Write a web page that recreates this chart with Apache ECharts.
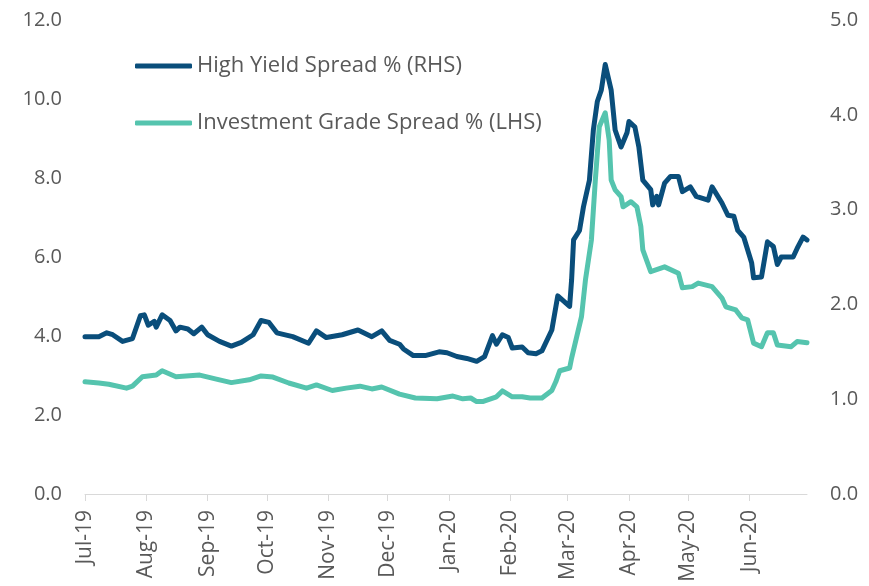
<!DOCTYPE html>
<html>
<head>
<meta charset="utf-8">
<script src="https://cdn.jsdelivr.net/npm/echarts@6/dist/echarts.min.js"></script>
<style>
  html, body { margin: 0; padding: 0; background: #fff; }
  #chart { width: 869px; height: 586px; }
</style>
</head>
<body>
<div id="chart"></div>
<script>
// month names used for the x tick labels (Jul-19 ... Jun-20)
const monthNames = ['Jan', 'Feb', 'Mar', 'Apr', 'May', 'Jun', 'Jul', 'Aug', 'Sep', 'Oct', 'Nov', 'Dec'];

const seriesNames = ['High Yield Spread % (RHS)', 'Investment Grade Spread % (LHS)'];

// high yield spread, right axis (%)
const highYield = [
  ['2019-07-01', 1.66], ['2019-07-08', 1.66], ['2019-07-12', 1.70], ['2019-07-15', 1.68],
  ['2019-07-20', 1.61], ['2019-07-25', 1.64], ['2019-07-29', 1.88], ['2019-07-31', 1.89],
  ['2019-08-02', 1.78], ['2019-08-05', 1.82], ['2019-08-06', 1.76], ['2019-08-09', 1.89],
  ['2019-08-13', 1.83], ['2019-08-16', 1.72], ['2019-08-18', 1.76], ['2019-08-22', 1.74],
  ['2019-08-25', 1.69], ['2019-08-29', 1.76], ['2019-09-01', 1.68], ['2019-09-07', 1.61],
  ['2019-09-13', 1.56], ['2019-09-18', 1.60], ['2019-09-24', 1.68], ['2019-09-28', 1.83],
  ['2019-10-02', 1.81], ['2019-10-06', 1.70], ['2019-10-14', 1.66], ['2019-10-22', 1.59],
  ['2019-10-26', 1.72], ['2019-10-31', 1.65], ['2019-11-08', 1.68], ['2019-11-16', 1.73],
  ['2019-11-23', 1.66], ['2019-11-28', 1.72], ['2019-12-02', 1.62], ['2019-12-07', 1.58],
  ['2019-12-09', 1.53], ['2019-12-14', 1.46], ['2019-12-20', 1.46], ['2019-12-27', 1.50],
  ['2019-12-31', 1.49], ['2020-01-05', 1.45], ['2020-01-10', 1.43], ['2020-01-15', 1.40],
  ['2020-01-19', 1.45], ['2020-01-23', 1.67], ['2020-01-25', 1.58], ['2020-01-28', 1.68],
  ['2020-01-31', 1.65], ['2020-02-02', 1.54], ['2020-02-07', 1.55], ['2020-02-10', 1.49],
  ['2020-02-14', 1.48], ['2020-02-17', 1.51], ['2020-02-22', 1.73], ['2020-02-25', 2.09],
  ['2020-03-02', 1.98], ['2020-03-03', 2.26], ['2020-03-04', 2.68], ['2020-03-07', 2.78],
  ['2020-03-09', 3.03], ['2020-03-12', 3.31], ['2020-03-14', 3.84], ['2020-03-16', 4.14],
  ['2020-03-18', 4.26], ['2020-03-20', 4.53], ['2020-03-23', 4.26], ['2020-03-25', 3.84],
  ['2020-03-28', 3.66], ['2020-03-31', 3.81], ['2020-04-01', 3.93], ['2020-04-04', 3.87],
  ['2020-04-06', 3.66], ['2020-04-08', 3.31], ['2020-04-12', 3.21], ['2020-04-13', 3.05],
  ['2020-04-15', 3.14], ['2020-04-16', 3.05], ['2020-04-19', 3.28], ['2020-04-22', 3.35],
  ['2020-04-26', 3.35], ['2020-04-28', 3.19], ['2020-05-02', 3.24], ['2020-05-05', 3.14],
  ['2020-05-11', 3.10], ['2020-05-13', 3.24], ['2020-05-18', 3.07], ['2020-05-21', 2.94],
  ['2020-05-24', 2.93], ['2020-05-26', 2.78], ['2020-05-29', 2.71], ['2020-06-02', 2.44],
  ['2020-06-03', 2.28], ['2020-06-07', 2.29], ['2020-06-10', 2.66], ['2020-06-13', 2.61],
  ['2020-06-15', 2.42], ['2020-06-17', 2.50], ['2020-06-23', 2.50], ['2020-06-25', 2.59],
  ['2020-06-28', 2.71], ['2020-06-30', 2.68]
];

// investment grade spread, left axis (%)
const investmentGrade = [
  ['2019-07-01', 2.84], ['2019-07-08', 2.81], ['2019-07-13', 2.78], ['2019-07-22', 2.68],
  ['2019-07-25', 2.73], ['2019-07-30', 2.97], ['2019-08-06', 3.01], ['2019-08-09', 3.12],
  ['2019-08-16', 2.97], ['2019-08-28', 3.01], ['2019-09-07', 2.89], ['2019-09-13', 2.82],
  ['2019-09-22', 2.89], ['2019-09-28', 2.99], ['2019-10-04', 2.96], ['2019-10-12', 2.81],
  ['2019-10-21', 2.68], ['2019-10-26', 2.76], ['2019-11-03', 2.62], ['2019-11-10', 2.68],
  ['2019-11-17', 2.73], ['2019-11-23', 2.66], ['2019-11-28', 2.71], ['2019-12-07', 2.53],
  ['2019-12-15', 2.43], ['2019-12-26', 2.41], ['2020-01-03', 2.48], ['2020-01-08', 2.41],
  ['2020-01-12', 2.43], ['2020-01-15', 2.34], ['2020-01-18', 2.34], ['2020-01-25', 2.46],
  ['2020-01-28', 2.61], ['2020-02-02', 2.46], ['2020-02-07', 2.46], ['2020-02-11', 2.43],
  ['2020-02-17', 2.43], ['2020-02-22', 2.62], ['2020-02-24', 2.84], ['2020-02-26', 3.12],
  ['2020-03-02', 3.19], ['2020-03-03', 3.44], ['2020-03-08', 4.49], ['2020-03-10', 5.42],
  ['2020-03-13', 6.43], ['2020-03-15', 7.95], ['2020-03-17', 9.30], ['2020-03-20', 9.65],
  ['2020-03-22', 8.96], ['2020-03-23', 7.95], ['2020-03-25', 7.70], ['2020-03-28', 7.53],
  ['2020-03-29', 7.27], ['2020-04-02', 7.40], ['2020-04-05', 7.27], ['2020-04-07', 6.77],
  ['2020-04-08', 6.18], ['2020-04-12', 5.63], ['2020-04-19', 5.75], ['2020-04-26', 5.59],
  ['2020-04-28', 5.22], ['2020-05-03', 5.25], ['2020-05-06', 5.34], ['2020-05-13', 5.25],
  ['2020-05-18', 4.96], ['2020-05-20', 4.74], ['2020-05-25', 4.66], ['2020-05-28', 4.46],
  ['2020-05-31', 4.41], ['2020-06-03', 3.82], ['2020-06-07', 3.73], ['2020-06-10', 4.08],
  ['2020-06-13', 4.08], ['2020-06-15', 3.77], ['2020-06-22', 3.73], ['2020-06-25', 3.86],
  ['2020-06-30', 3.83]
];

const textColor = '#595959';
const fontFamily = '"Open Sans", "Noto Sans", sans-serif';

let myChart = echarts.init(document.getElementById('chart'));
myChart.setOption({
  animation: false,
  textStyle: { fontFamily: fontFamily },
  grid: { left: 85, right: 62, top: 20, bottom: 92 },
  legend: {
    orient: 'vertical',
    left: 130,
    top: 50,
    itemWidth: 57,
    itemHeight: 5,
    itemGap: 35,
    icon: 'roundRect',
    textStyle: { color: textColor, fontSize: 22, fontFamily: fontFamily },
    data: seriesNames
  },
  xAxis: {
    type: 'time',
    min: '2019-07-01',
    max: '2020-06-30',
    splitNumber: 12,
    axisLine: { lineStyle: { color: '#d9d9d9', width: 1 } },
    axisTick: { show: true, length: 7, lineStyle: { color: '#d9d9d9' } },
    splitLine: { show: false },
    axisLabel: {
      rotate: 90,
      color: textColor,
      fontSize: 21,
      margin: 16,
      hideOverlap: false,
      formatter: function (v) {
        const d = new Date(v);
        return monthNames[d.getMonth()] + '-' + String(d.getFullYear()).slice(2);
      }
    }
  },
  yAxis: [
    {
      type: 'value',
      min: 0, max: 12, interval: 2,
      axisLine: { show: false },
      axisTick: { show: false },
      splitLine: { show: false },
      axisLabel: { color: textColor, fontSize: 20, margin: 23, formatter: v => v.toFixed(1) }
    },
    {
      type: 'value',
      min: 0, max: 5, interval: 1,
      axisLine: { show: false },
      axisTick: { show: false },
      splitLine: { show: false },
      axisLabel: { color: textColor, fontSize: 20, margin: 23, formatter: v => v.toFixed(1) }
    }
  ],
  series: [
    {
      name: seriesNames[0],
      type: 'line',
      yAxisIndex: 1,
      symbol: 'none',
      color: '#0a4e7b',
      lineStyle: { width: 5, cap: 'round', join: 'round' },
      data: highYield
    },
    {
      name: seriesNames[1],
      type: 'line',
      yAxisIndex: 0,
      symbol: 'none',
      color: '#55c4ae',
      lineStyle: { width: 5, cap: 'round', join: 'round' },
      data: investmentGrade
    }
  ]
});
</script>
</body>
</html>
